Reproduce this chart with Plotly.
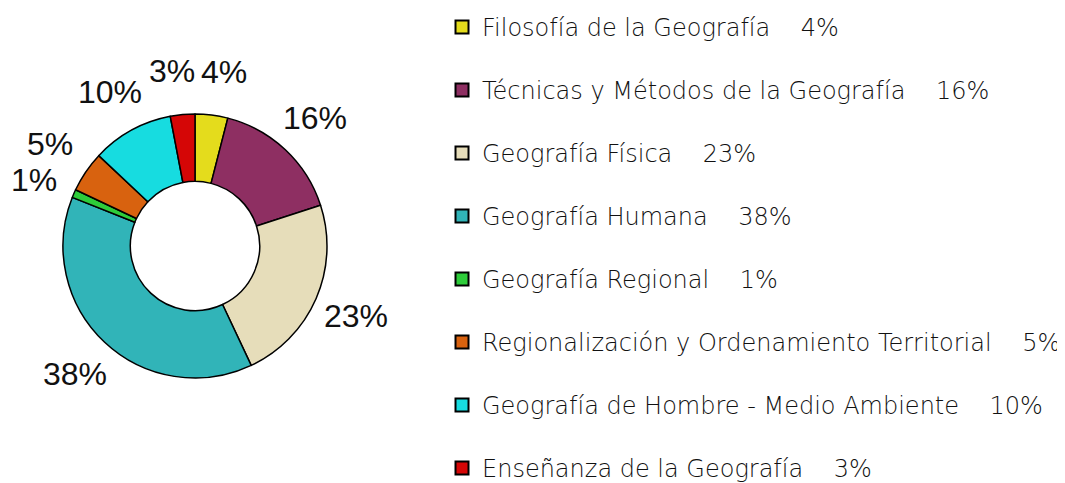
import math
import plotly.graph_objects as go

categories = [
    "Filosofía de la Geografía",
    "Técnicas y Métodos de la Geografía",
    "Geografía Física",
    "Geografía Humana",
    "Geografía Regional",
    "Regionalización y Ordenamiento Territorial",
    "Geografía de Hombre - Medio Ambiente",
    "Enseñanza de la Geografía",
]
values = [4, 16, 23, 38, 1, 5, 10, 3]
colors = ["#E4DC1C", "#8E2F62", "#E6DDBA", "#31B4B8", "#2ECC3A", "#D8620F", "#17DCE0", "#D50606"]

NB = "\u00a0"
legend_names = [f"{c}{NB*4}{v}%" for c, v in zip(categories, values)]
pct_text = [f"{v}%" for v in values]

# The page body has an 8px margin, so the figure is drawn 8px in from the window edge.
W, H = 1057, 475
dom_x = [0.05203, 0.30180]
dom_y = [0.22105, 0.77684]
LBL_SIZE = 32

fig = go.Figure()
fig.add_trace(go.Pie(
    values=values,
    labels=categories,
    textinfo="none",
    sort=False,
    direction="clockwise",
    rotation=0,
    hole=0.49,
    marker=dict(colors=colors, line=dict(color="black", width=1.5)),
    showlegend=False,
    hoverinfo="skip",
    domain=dict(x=dom_x, y=dom_y),
))

# percentage labels placed outside each slice at its mid-angle
cx = W * sum(dom_x) / 2
cy = H * (1 - sum(dom_y) / 2)
R = min(W * (dom_x[1] - dom_x[0]), H * (dom_y[1] - dom_y[0])) / 2
r_lab = 1.33 * R
total = sum(values)
cum = 0
pos = []
for v, t in zip(values, pct_text):
    mid = (cum + v / 2) / total * 2 * math.pi
    cum += v
    w = LBL_SIZE * (0.556 * (len(t) - 1) + 0.889)
    h = LBL_SIZE * 0.95
    pos.append([cx + r_lab * math.sin(mid), cy - r_lab * math.cos(mid), w, h])

# push apart neighbouring labels that would overlap (along the axis of least overlap)
n = len(pos)
for i in range(n):
    a, b = pos[i], pos[(i + 1) % n]
    ox = (a[2] + b[2]) / 2 - abs(a[0] - b[0])
    oy = (a[3] + b[3]) / 2 - abs(a[1] - b[1])
    if ox > 0 and oy > 0:
        k = 0 if ox <= oy else 1
        s = (min(ox, oy) + 6) / 2
        if a[k] >= b[k]:
            a[k] += s; b[k] -= s
        else:
            a[k] -= s; b[k] += s

for (px, py, w, h), t in zip(pos, pct_text):
    fig.add_annotation(
        x=px / W, y=1 - py / H, xref="paper", yref="paper",
        text=t, showarrow=False, xanchor="center", yanchor="middle",
        font=dict(family="Liberation Sans, Arial", size=LBL_SIZE, color="#111111"),
    )

for i, (name, col) in enumerate(zip(legend_names, colors)):
    fig.add_trace(go.Scatter(
        x=[None], y=[None], mode="markers", name=name,
        legendgroup=f"g{i}",
        legend="legend" if i < 4 else "legend2",
        marker=dict(symbol="square", size=13, color=col, line=dict(color="black", width=2)),
    ))

leg_common = dict(
    xanchor="left", yanchor="top",
    font=dict(family="DejaVu Sans", size=24, color="#111111", weight=300),
    tracegroupgap=28.8, bgcolor="rgba(0,0,0,0)",
)
fig.update_layout(
    width=W, height=H,
    margin=dict(l=0, r=0, t=0, b=0, autoexpand=False),
    paper_bgcolor="white", plot_bgcolor="white",
    xaxis=dict(visible=False), yaxis=dict(visible=False),
    legend=dict(x=0.4106, y=1.0065, **leg_common),
    legend2=dict(x=0.4106, y=0.4760, **leg_common),
)
fig.write_html("out.html")
